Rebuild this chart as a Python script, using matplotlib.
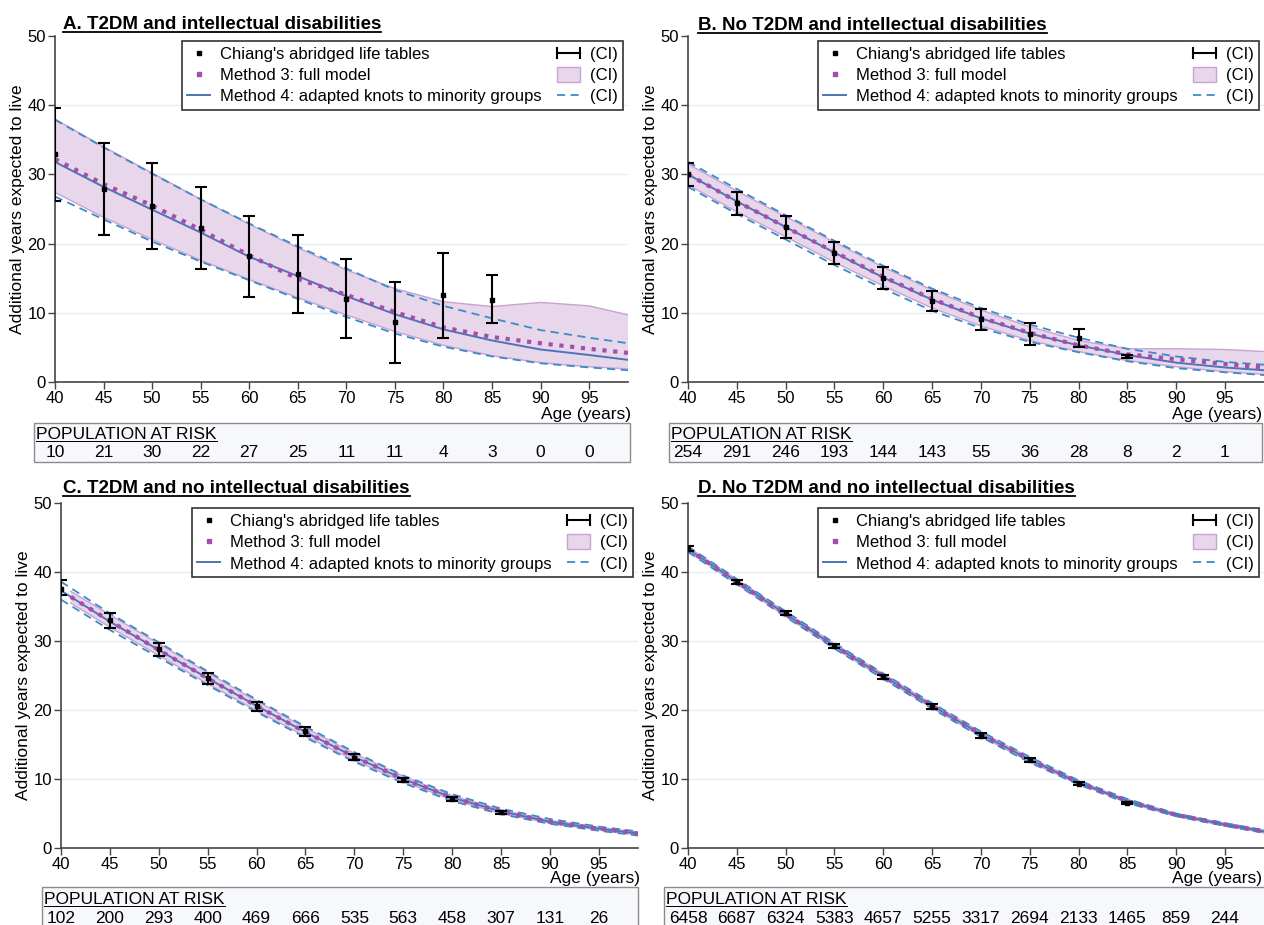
import numpy as np
import matplotlib
matplotlib.use('Agg')
import matplotlib.pyplot as plt
import matplotlib.transforms as mtransforms
from matplotlib.lines import Line2D
from matplotlib.patches import Patch, Rectangle
from matplotlib.legend_handler import HandlerLine2D

plt.rcParams['font.family'] = ['Liberation Sans', 'DejaVu Sans']

W, H = 1264, 925

# ---------------- data ----------------
TICK_AGES = [40, 45, 50, 55, 60, 65, 70, 75, 80, 85, 90, 95]
Y_TICKS = [0, 10, 20, 30, 40, 50]
CHIANG_AGES = [40, 45, 50, 55, 60, 65, 70, 75, 80, 85]
CURVE_AGES = [40, 45, 50, 55, 60, 65, 70, 75, 80, 85, 90, 95, 99]
CURVE_AGES_C3 = [41, 45, 50, 55, 60, 65, 70, 75, 80, 85, 90, 95, 99]

TITLES = ["A. T2DM and intellectual disabilities",
          "B. No T2DM and intellectual disabilities",
          "C. T2DM and no intellectual disabilities",
          "D. No T2DM and no intellectual disabilities"]

# Panel A
A_est = [32.9, 27.9, 25.4, 22.3, 18.2, 15.6, 12.0, 8.6, 12.6, 11.9]
A_lo = [26.2, 21.2, 19.2, 16.4, 12.3, 9.9, 6.3, 2.8, 6.3, 8.5]
A_hi = [39.6, 34.6, 31.6, 28.2, 24.0, 21.3, 17.8, 14.5, 18.7, 15.5]
A_m3 = [32.2, 28.6, 25.5, 22.0, 18.3, 14.9, 12.6, 10.1, 7.9, 6.5, 5.6, 4.8, 4.2]
A_m3_lo = [27.4, 23.8, 20.6, 17.6, 14.8, 12.2, 9.7, 7.3, 5.3, 3.8, 2.8, 2.2, 1.9]
A_m3_hi = [38.0, 34.0, 30.2, 26.4, 22.8, 19.4, 16.2, 13.5, 11.6, 10.9, 11.5, 11.0, 9.7]
A_m4 = [31.8, 28.2, 24.9, 21.6, 18.1, 15.3, 12.4, 9.8, 7.6, 6.0, 4.7, 3.9, 3.2]
A_m4_lo = [26.8, 23.5, 20.3, 17.4, 14.7, 12.0, 9.4, 7.0, 5.1, 3.7, 2.7, 2.1, 1.7]
A_m4_hi = [37.9, 33.9, 30.1, 26.4, 22.9, 19.6, 16.4, 13.3, 11.0, 9.2, 7.5, 6.4, 5.6]
A_risk = [10, 21, 30, 22, 27, 25, 11, 11, 4, 3, 0, 0]

# Panel B
B_est = [30.0, 25.9, 22.4, 18.7, 15.1, 11.7, 9.1, 6.9, 6.3, 3.7]
B_lo = [28.3, 24.2, 20.8, 17.1, 13.5, 10.2, 7.5, 5.3, 5.0, 3.5]
B_hi = [31.7, 27.5, 24.0, 20.3, 16.6, 13.2, 10.6, 8.5, 7.7, 3.9]
B_m3 = [30.0, 26.1, 22.4, 18.8, 15.2, 12.0, 9.3, 7.1, 5.3, 4.0, 3.3, 2.6, 2.1]
B_m3_lo = [28.5, 24.6, 21.0, 17.3, 13.9, 10.7, 8.1, 6.0, 4.4, 3.1, 2.2, 1.5, 1.1]
B_m3_hi = [31.5, 27.6, 23.9, 20.2, 16.6, 13.3, 10.4, 8.0, 6.0, 4.8, 4.8, 4.7, 4.4]
B_m4 = [30.0, 26.1, 22.4, 18.7, 15.1, 11.9, 9.2, 7.0, 5.3, 3.9, 2.8, 2.1, 1.7]
B_m4_lo = [28.2, 24.3, 20.6, 16.9, 13.5, 10.3, 7.8, 5.8, 4.3, 3.0, 2.0, 1.4, 1.0]
B_m4_hi = [31.8, 27.9, 24.1, 20.4, 16.8, 13.5, 10.7, 8.3, 6.4, 4.8, 3.7, 2.9, 2.5]
B_risk = [254, 291, 246, 193, 144, 143, 55, 36, 28, 8, 2, 1]

# Panel C
C_est = [37.6, 33.0, 28.8, 24.6, 20.6, 16.9, 13.1, 9.9, 7.1, 5.2]
C_lo = [36.6, 31.9, 27.8, 23.8, 19.9, 16.3, 12.7, 9.5, 6.8, 5.0]
C_hi = [38.9, 34.0, 29.7, 25.3, 21.2, 17.5, 13.6, 10.2, 7.4, 5.3]
C_m3 = [36.4, 32.9, 28.7, 24.6, 20.6, 16.8, 13.2, 10.0, 7.3, 5.3, 3.8, 2.8, 2.1]
C_m3_lo = [35.5, 32.0, 27.9, 23.8, 19.9, 16.2, 12.7, 9.6, 7.0, 5.0, 3.6, 2.6, 1.9]
C_m3_hi = [37.2, 33.8, 29.6, 25.4, 21.3, 17.4, 13.7, 10.4, 7.6, 5.5, 4.0, 3.0, 2.3]
C_m4 = [37.3, 32.8, 28.7, 24.6, 20.6, 16.8, 13.2, 10.0, 7.3, 5.3, 3.8, 2.8, 2.1]
C_m4_lo = [36.0, 31.6, 27.6, 23.6, 19.7, 16.0, 12.5, 9.4, 6.8, 4.9, 3.5, 2.5, 1.8]
C_m4_hi = [38.6, 34.0, 29.8, 25.6, 21.5, 17.6, 13.9, 10.5, 7.8, 5.7, 4.2, 3.1, 2.4]
C_risk = [102, 200, 293, 400, 469, 666, 535, 563, 458, 307, 131, 26]

# Panel D
D_est = [43.4, 38.6, 34.0, 29.3, 24.8, 20.5, 16.3, 12.7, 9.3, 6.5]
D_lo = [43.0, 38.3, 33.7, 29.0, 24.5, 20.2, 16.0, 12.4, 9.1, 6.4]
D_hi = [43.8, 38.9, 34.3, 29.6, 25.1, 20.8, 16.6, 13.0, 9.5, 6.7]
D_m3 = [43.3, 38.6, 33.9, 29.3, 24.9, 20.6, 16.5, 12.8, 9.5, 6.8, 4.8, 3.4, 2.4]
D_m3_lo = [43.0, 38.3, 33.6, 29.0, 24.6, 20.3, 16.2, 12.5, 9.3, 6.6, 4.6, 3.2, 2.2]
D_m3_hi = [43.6, 38.9, 34.2, 29.6, 25.2, 20.9, 16.8, 13.1, 9.7, 7.0, 5.0, 3.6, 2.6]
D_m4 = [43.3, 38.6, 33.9, 29.3, 24.9, 20.6, 16.5, 12.8, 9.5, 6.8, 4.8, 3.4, 2.4]
D_m4_lo = [42.9, 38.2, 33.5, 28.9, 24.5, 20.2, 16.1, 12.4, 9.2, 6.5, 4.6, 3.2, 2.2]
D_m4_hi = [43.7, 39.0, 34.3, 29.7, 25.3, 21.0, 16.9, 13.2, 9.8, 7.1, 5.0, 3.6, 2.6]
D_risk = [6458, 6687, 6324, 5383, 4657, 5255, 3317, 2694, 2133, 1465, 859, 244]

PANELS = [
    dict(est=A_est, lo=A_lo, hi=A_hi, m3_ages=CURVE_AGES, m3=A_m3, m3_lo=A_m3_lo, m3_hi=A_m3_hi,
         m4=A_m4, m4_lo=A_m4_lo, m4_hi=A_m4_hi, risk=A_risk),
    dict(est=B_est, lo=B_lo, hi=B_hi, m3_ages=CURVE_AGES, m3=B_m3, m3_lo=B_m3_lo, m3_hi=B_m3_hi,
         m4=B_m4, m4_lo=B_m4_lo, m4_hi=B_m4_hi, risk=B_risk),
    dict(est=C_est, lo=C_lo, hi=C_hi, m3_ages=CURVE_AGES_C3, m3=C_m3, m3_lo=C_m3_lo, m3_hi=C_m3_hi,
         m4=C_m4, m4_lo=C_m4_lo, m4_hi=C_m4_hi, risk=C_risk),
    dict(est=D_est, lo=D_lo, hi=D_hi, m3_ages=CURVE_AGES, m3=D_m3, m3_lo=D_m3_lo, m3_hi=D_m3_hi,
         m4=D_m4, m4_lo=D_m4_lo, m4_hi=D_m4_hi, risk=D_risk),
]

# ---------------- layout (pixels, top-left origin) ----------------
LAYOUT = [
    dict(ax=(55, 628, 36, 382), title=(63, 29), box=(34, 630, 423, 462), pop=439, num=457, age=(631, 414)),
    dict(ax=(688, 1264, 36, 382), title=(698, 30), box=(669, 1262, 423, 462), pop=439, num=457, age=(1262, 414)),
    dict(ax=(61, 638, 503, 848), title=(63, 493), box=(42, 638, 887, 935), pop=904, num=923, age=(640, 879)),
    dict(ax=(688, 1264, 503, 848), title=(698, 493), box=(664, 1268, 887, 935), pop=904, num=923, age=(1262, 879)),
]

PURPLE = '#a24eaa'
BAND_FC = '#e8d6eb'
BAND_EC = '#c9a2d2'
BLUE = '#4e74b6'
DASH = '#3b8bc8'
SPINE = '#444444'
GRID = '#e4eef0'

fig = plt.figure(figsize=(W / 100, H / 100), dpi=100)
fig.patch.set_facecolor('white')


def fx(px):
    return px / W


def fy(py):
    return 1 - py / H


underline_targets = []

for i, (P, L) in enumerate(zip(PANELS, LAYOUT)):
    l, r, t, b = L['ax']
    bl, br, bt, bb = L['box']
    fig.add_artist(Rectangle((fx(bl), fy(bb)), fx(br) - fx(bl), fy(bt) - fy(bb),
                             transform=fig.transFigure, facecolor='#f7f8fc', edgecolor='#8c8c8c',
                             lw=1.0, zorder=0))

    ax = fig.add_axes([fx(l), fy(b), fx(r) - fx(l), fy(t) - fy(b)])
    ax.set_xlim(40, 99)
    ax.set_ylim(0, 50)
    for s in ['top', 'right']:
        ax.spines[s].set_visible(False)
    for s in ['left', 'bottom']:
        ax.spines[s].set_color(SPINE)
        ax.spines[s].set_linewidth(1.2)
    ax.set_xticks(TICK_AGES)
    ax.set_yticks(Y_TICKS)
    ax.tick_params(direction='out', length=5, width=1.0, color=SPINE, labelsize=12, pad=1.5)
    for gy in Y_TICKS[1:-1]:
        ax.axhline(gy, color=GRID, lw=1.0, zorder=0)
    ax.set_ylabel('Additional years expected to live', fontsize=12.5, labelpad=2)

    ca = np.array(CURVE_AGES)
    ma = np.array(P['m3_ages'])
    ax.fill_between(ma, P['m3_lo'], P['m3_hi'], facecolor=BAND_FC, edgecolor='none', zorder=1)
    ax.plot(ma, P['m3_lo'], color=BAND_EC, lw=1.0, zorder=1.5)
    ax.plot(ma, P['m3_hi'], color=BAND_EC, lw=1.0, zorder=1.5)
    ax.plot(ca, P['m4_lo'], color=DASH, lw=1.3, ls=(0, (4.5, 3)), zorder=2)
    ax.plot(ca, P['m4_hi'], color=DASH, lw=1.3, ls=(0, (4.5, 3)), zorder=2)
    ax.plot(ca, P['m4'], color=BLUE, lw=1.4, zorder=3)
    ax.plot(ma, P['m3'], color=PURPLE, lw=3.0, ls=(0, (1, 1.6)), zorder=4)
    est = np.array(P['est'])
    yerr = np.vstack([est - np.array(P['lo']), np.array(P['hi']) - est])
    ax.errorbar(CHIANG_AGES, est, yerr=yerr, fmt='s', color='k', ms=3, elinewidth=1.5,
                capsize=4, capthick=1.5, zorder=5)

    h1 = Line2D([], [], color='k', marker='s', ms=3, ls='none')
    h2 = Line2D([], [], color=PURPLE, marker='s', ms=3, ls='none')
    h3 = Line2D([], [], color=BLUE, lw=1.4)
    h4 = Line2D([], [], color='k', lw=1.5, marker='|', ms=8, mew=1.5)
    h5 = Patch(facecolor=BAND_FC, edgecolor=BAND_EC)
    h6 = Line2D([], [], color=DASH, lw=1.3, ls=(0, (4.5, 3)))
    leg = ax.legend([h1, h2, h3, h4, h5, h6],
                    ["Chiang's abridged life tables", "Method 3: full model",
                     "Method 4: adapted knots to minority groups", "(CI)", "(CI)", "(CI)"],
                    ncol=2, loc='upper right', bbox_to_anchor=(1.0, 1.0), fontsize=12,
                    frameon=True, fancybox=False, framealpha=1, edgecolor='#333333',
                    handlelength=1.4, handletextpad=0.6, columnspacing=0.9,
                    labelspacing=0.3, borderpad=0.3, borderaxespad=0.3, handleheight=1.0,
                    handler_map={h4: HandlerLine2D(numpoints=2, marker_pad=0)})
    leg.get_frame().set_linewidth(1.2)
    leg.set_zorder(10)

    ttl = fig.text(fx(L['title'][0]), fy(L['title'][1]), TITLES[i],
                   fontsize=13.5, fontweight='bold', ha='left', va='baseline')
    underline_targets.append((ttl, 1.8, 2.5))

    ax.text(fx(L['age'][0]), fy(L['age'][1]), 'Age (years)', transform=fig.transFigure,
            fontsize=12.5, ha='right', va='center')

    pt = fig.text(fx(bl + 2), fy(L['pop']), 'POPULATION AT RISK', fontsize=12.5,
                  ha='left', va='baseline')
    underline_targets.append((pt, 1.0, 2.0))
    trans = mtransforms.blended_transform_factory(ax.transData, fig.transFigure)
    for age, n in zip(TICK_AGES, P['risk']):
        ax.text(age, fy(L['num']), str(n), transform=trans, fontsize=12.5, ha='center',
                va='baseline', clip_on=False)

fig.canvas.draw()
renderer = fig.canvas.get_renderer()
for txt, lw, gap in underline_targets:
    bb = txt.get_window_extent(renderer)
    yb = txt.get_transform().transform(txt.get_position())[1]
    fig.add_artist(Line2D([bb.x0 / W, bb.x1 / W], [(yb - gap) / H] * 2,
                          transform=fig.transFigure, color='k', lw=lw * 0.72))

fig.savefig('out.png', dpi=100)
